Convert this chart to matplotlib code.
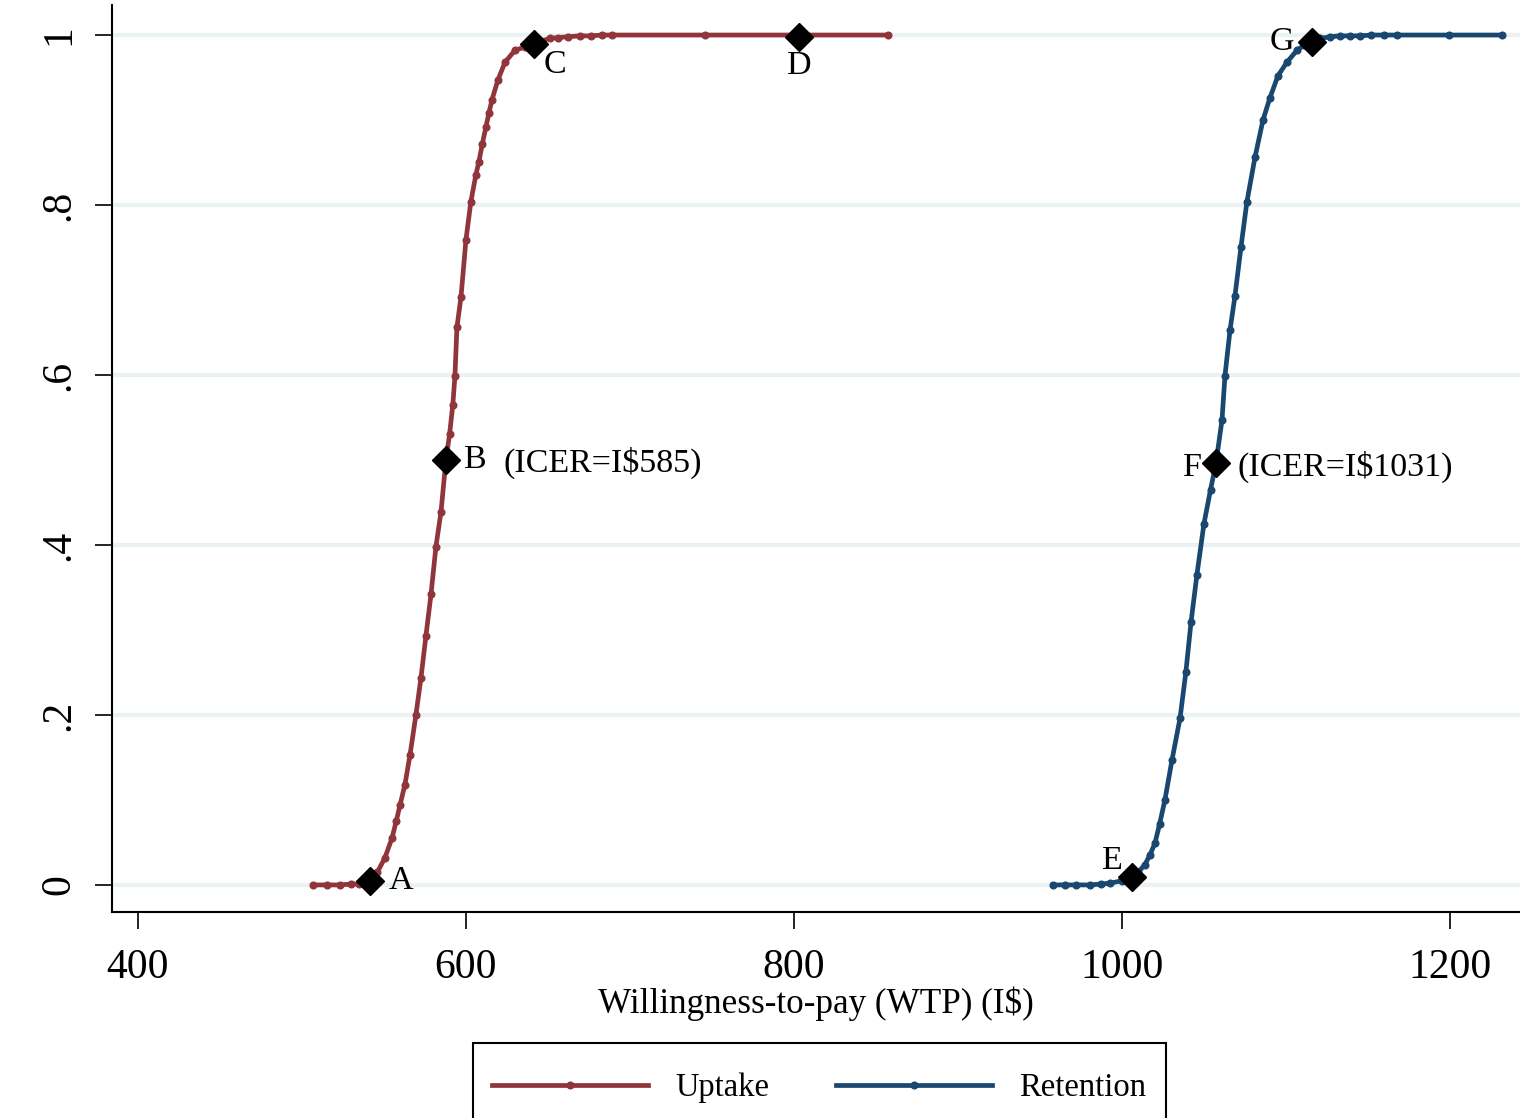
import matplotlib.pyplot as plt
from matplotlib.patches import Rectangle

plt.rcParams['font.family'] = ['Liberation Serif', 'DejaVu Serif']

# cumulative probability vs WTP
uptake_wtp = [507, 515, 523, 530, 535, 541.5, 546, 550.6, 554.9, 557.5, 559.8, 562.8,
              565.9, 569.5, 572.6, 575.6, 578.7, 581.7, 584.8, 587.8, 590, 592, 593.3,
              594.5, 597, 600, 603, 606, 607.9, 610, 612.2, 614, 615.9, 619.5, 623.8,
              629.9, 636, 641.5, 646, 651.2, 656, 662, 669.5, 676, 683, 689, 745.7,
              803, 857.3]
uptake_p = [0, 0, 0, 0.001, 0.001, 0.005, 0.015, 0.032, 0.055, 0.075, 0.094, 0.118,
            0.153, 0.2, 0.244, 0.293, 0.342, 0.398, 0.439, 0.5, 0.53, 0.565, 0.599,
            0.656, 0.692, 0.759, 0.804, 0.835, 0.851, 0.872, 0.892, 0.908, 0.924, 0.947,
            0.968, 0.982, 0.986, 0.989, 0.993, 0.996, 0.997, 0.998, 0.999, 0.999, 1.0,
            1.0, 1.0, 1.0, 1.0]

retention_wtp = [958, 965, 972, 980.5, 987, 992.7, 1000, 1006.1, 1010, 1014, 1017,
                 1020.1, 1023, 1026.2, 1030.5, 1035.4, 1039, 1042.1, 1045.7, 1050,
                 1054, 1057.3, 1061, 1062.8, 1065.9, 1068.9, 1072.6, 1076.2, 1081.1,
                 1086, 1090.2, 1095.1, 1100.6, 1106.7, 1111, 1115.9, 1121, 1126.8, 1133,
                 1139, 1145.1, 1152, 1160, 1167.7, 1199.4, 1231.7]
retention_p = [0, 0, 0, 0, 0.001, 0.002, 0.005, 0.009, 0.015, 0.024, 0.035, 0.049,
               0.072, 0.1, 0.147, 0.196, 0.251, 0.309, 0.365, 0.425, 0.465, 0.496,
               0.547, 0.599, 0.653, 0.693, 0.751, 0.804, 0.856, 0.9, 0.926, 0.952,
               0.968, 0.982, 0.988, 0.992, 0.996, 0.998, 0.999, 0.999, 0.999, 1.0, 1.0,
               1.0, 1.0, 1.0]

# highlighted points A-G
pt_labels = ['A', 'B', 'C', 'D', 'E', 'F', 'G']
pt_wtp = [541.5, 587.8, 641.5, 803, 1006.1, 1057.3, 1115.9]
pt_p = [0.005, 0.5, 0.989, 0.998, 0.009, 0.496, 0.992]
icer_text = ['(ICER=I$585)', '(ICER=I$1031)']
icer_wtp = [622.6, 1070.7]
icer_p = [0.4965, 0.492]

red = '#90353B'
blue = '#1A476F'

fig = plt.figure(figsize=(15.2, 11.18), dpi=100)
ax = fig.add_axes([0.0737, 0.1843, 0.9263, 0.8112])

ax.plot(uptake_wtp, uptake_p, color=red, lw=3.4, marker='o', ms=4.8, label='Uptake')
ax.plot(retention_wtp, retention_p, color=blue, lw=3.4, marker='o', ms=4.8, label='Retention')
ax.plot(pt_wtp, pt_p, 'D', color='black', ms=14, zorder=5, linestyle='none')

fs = 24.5
# label offsets in points from each marker (text centred)
offsets = {'A': (22, 0), 'B': (21, 0), 'C': (15, -15), 'D': (0, -21),
           'E': (-14, 12), 'F': (-17, -3), 'G': (-22, 0)}
for lab, x, y in zip(pt_labels, pt_wtp, pt_p):
    ax.annotate(lab, (x, y), xytext=offsets[lab], textcoords='offset points',
                ha='center', va='center', fontsize=fs)
for t, x, y in zip(icer_text, icer_wtp, icer_p):
    ax.text(x, y, t, fontsize=fs, ha='left', va='center')

ax.set_xlim(384.2, 1242.7)
ax.set_ylim(-0.0318, 1.0353)
ax.set_xticks([400, 600, 800, 1000, 1200])
ax.set_yticks([0, 0.2, 0.4, 0.6, 0.8, 1])
ax.set_yticklabels(['0', '.2', '.4', '.6', '.8', '1'], rotation=90, va='center')
ax.tick_params(axis='both', labelsize=30, length=12, width=1.2, direction='out')
ax.tick_params(axis='y', pad=12)
ax.tick_params(axis='x', pad=14)

ax.grid(axis='y', color='#EAF2F3', lw=3)
ax.set_axisbelow(True)
for s in ['top', 'right']:
    ax.spines[s].set_visible(False)
for s in ['left', 'bottom']:
    ax.spines[s].set_linewidth(1.5)

ax.set_xlabel('Willingness-to-pay (WTP) (I$)', fontsize=25.3, labelpad=0)

leg = fig.legend(loc='upper center', bbox_to_anchor=(819.5 / 1520, 1 - 1053 / 1118),
                 ncol=2, fontsize=23.5, handlelength=4.78, handletextpad=0.83,
                 columnspacing=2.05, frameon=False, borderpad=0.6, borderaxespad=0)
for h in leg.legend_handles:
    h.set_markevery([1])

# Stata-style box: a bit more room above the entries than at the sides
fig.canvas.draw()
bb = leg.get_window_extent()
W, H = fig.bbox.width, fig.bbox.height
fig.add_artist(Rectangle((bb.x0 / W, bb.y0 / H), bb.width / W, (bb.height + 10) / H,
                         transform=fig.transFigure, fill=False, edgecolor='black',
                         linewidth=1.5))

fig.savefig('out.png', dpi=100)
